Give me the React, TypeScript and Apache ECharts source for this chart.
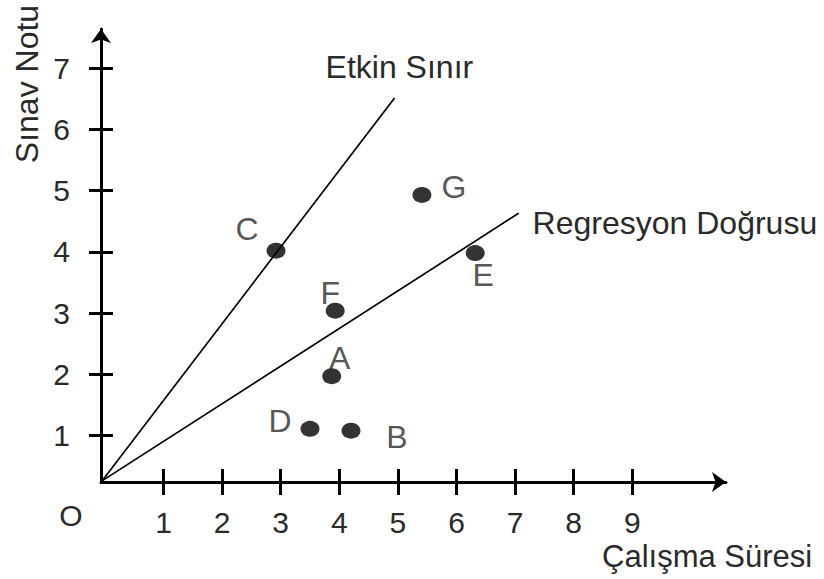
import React, { useEffect, useRef } from "react";
import * as echarts from "echarts";

// Tick positions on both axes
const xTicks = [1, 2, 3, 4, 5, 6, 7, 8, 9];
const yTicks = [1, 2, 3, 4, 5, 6, 7];

// Students: study time (x) and exam score (y)
const pointNames = ["A", "B", "C", "D", "E", "F", "G"];
const studyTime = [3.87, 4.2, 2.92, 3.5, 6.32, 3.93, 5.41];
const examScore = [1.97, 1.08, 4.02, 1.11, 3.98, 3.04, 4.93];

// Reference lines drawn from the origin corner
const frontierLine = [
  [-0.05, 0.26],
  [4.94, 6.51],
];
const regressionLine = [
  [-0.05, 0.26],
  [7.06, 4.63],
];

const FONT = "'Liberation Sans', Arial, sans-serif";
const TEXT = "#2a2a2a";

// Where each point's letter sits relative to its dot (px)
const letterOffsets: Record<string, [number, number]> = {
  A: [8, -18],
  B: [46, 6],
  C: [-29, -22],
  D: [-30, -8],
  E: [8, 22],
  F: [-5, -18],
  G: [32, -8],
};

const X_MIN = -0.067;
const X_MAX = 10.6;
const Y_MIN = 0.242;
const Y_MAX = 7.64;

export default function App() {
  const ref = useRef<HTMLDivElement>(null);

  useEffect(() => {
    if (!ref.current) return;
    const chart = echarts.init(ref.current, null, { renderer: "svg" });

    const tickLine = { color: "#000", width: 3 };
    const labelStyle = { fontSize: 30, lineHeight: 24, color: TEXT, fontFamily: FONT };

    const lineEndLabel = (text: string, offset: [number, number], align: string) => ({
      show: true,
      position: "inside",
      formatter: text,
      offset,
      align,
      verticalAlign: "middle",
      fontSize: 32,
      lineHeight: 26,
      color: TEXT,
      fontFamily: FONT,
    });

    const makeLine = (pts: number[][], label: any) =>
      pts.map((p, i) =>
        i === pts.length - 1 ? { value: p, label } : { value: p, label: { show: false } }
      );

    chart.setOption({
      animation: false,
      backgroundColor: "#fff",
      grid: { left: 101, top: 29, right: 98, bottom: 97, containLabel: false },
      xAxis: [
        {
          type: "value",
          min: X_MIN,
          max: X_MAX,
          position: "bottom",
          axisLine: {
            show: true,
            onZero: false,
            symbol: ["none", "arrow"],
            symbolSize: [15, 14],
            lineStyle: { color: "#000", width: 3 },
          },
          axisTick: { show: true, inside: true, length: 13, lineStyle: tickLine, customValues: xTicks },
          axisLabel: { show: true, margin: 28, customValues: xTicks, ...labelStyle },
          splitLine: { show: false },
        },
        {
          type: "value",
          min: X_MIN,
          max: X_MAX,
          position: "bottom",
          axisLine: { show: false, onZero: false },
          axisTick: { show: true, inside: false, length: 13, lineStyle: tickLine, customValues: xTicks },
          axisLabel: { show: false },
          splitLine: { show: false },
        },
      ],
      yAxis: [
        {
          type: "value",
          min: Y_MIN,
          max: Y_MAX,
          position: "left",
          axisLine: {
            show: true,
            onZero: false,
            symbol: ["none", "arrow"],
            symbolSize: [15, 14],
            lineStyle: { color: "#000", width: 3 },
          },
          axisTick: { show: true, inside: true, length: 12, lineStyle: tickLine, customValues: yTicks },
          axisLabel: { show: true, margin: 31, customValues: yTicks, ...labelStyle },
          splitLine: { show: false },
        },
        {
          type: "value",
          min: Y_MIN,
          max: Y_MAX,
          position: "left",
          axisLine: { show: false, onZero: false },
          axisTick: { show: true, inside: false, length: 12, lineStyle: tickLine, customValues: yTicks },
          axisLabel: { show: false },
          splitLine: { show: false },
        },
      ],
      series: [
        {
          name: "Etkin Sınır",
          type: "line",
          data: makeLine(frontierLine, lineEndLabel("Etkin Sınır", [5, -31], "center")),
          symbol: "circle",
          symbolSize: 1,
          itemStyle: { color: "#000" },
          lineStyle: { color: "#000", width: 1.7 },
          z: 3,
        },
        {
          name: "Regresyon Doğrusu",
          type: "line",
          data: makeLine(regressionLine, lineEndLabel("Regresyon Doğrusu", [14, 10], "left")),
          symbol: "circle",
          symbolSize: 1,
          itemStyle: { color: "#000" },
          lineStyle: { color: "#000", width: 1.7 },
          z: 3,
        },
        {
          name: "Öğrenciler",
          type: "scatter",
          symbol: "circle",
          symbolSize: [19, 16],
          itemStyle: { color: "#000" },
          data: pointNames.map((n, i) => ({
            name: n,
            value: [studyTime[i], examScore[i]],
            label: {
              show: true,
              position: "inside",
              formatter: n,
              offset: letterOffsets[n],
              align: "center",
              verticalAlign: "middle",
              fontSize: 32,
              lineHeight: 26,
              color: TEXT,
              fontFamily: FONT,
            },
          })),
          z: 4,
        },
      ],
      graphic: [
        {
          type: "text",
          x: 602,
          y: 556,
          style: {
            text: "Çalışma Süresi",
            fontSize: 31,
            lineHeight: 24,
            fill: TEXT,
            fontFamily: FONT,
            align: "left",
            verticalAlign: "middle",
          },
        },
        {
          type: "text",
          x: 27,
          y: 84,
          rotation: Math.PI / 2,
          style: {
            text: "Sınav Notu",
            fontSize: 32,
            lineHeight: 26,
            fill: TEXT,
            fontFamily: FONT,
            align: "center",
            verticalAlign: "middle",
          },
        },
        {
          type: "text",
          x: 71,
          y: 515,
          style: {
            text: "O",
            fontSize: 30,
            lineHeight: 24,
            fill: TEXT,
            fontFamily: FONT,
            align: "center",
            verticalAlign: "middle",
          },
        },
      ],
    });

    return () => chart.dispose();
  }, []);

  return (
    <div
      ref={ref}
      style={{ position: "fixed", left: 0, top: 0, width: 824, height: 579, background: "#fff" }}
    />
  );
}
